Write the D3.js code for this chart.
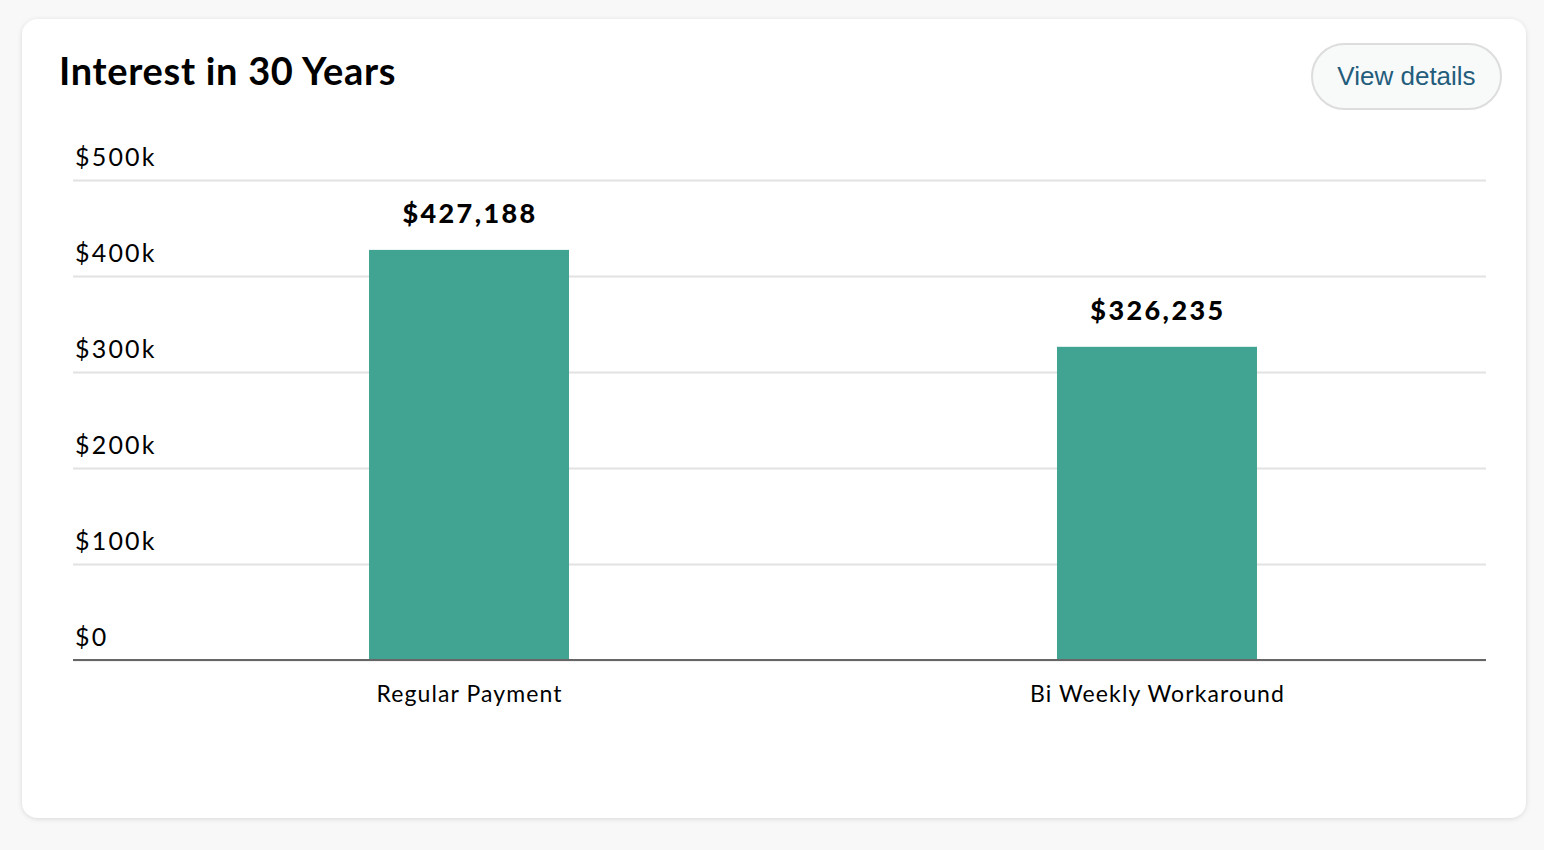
<!DOCTYPE html>
<html>
<head>
<meta charset="utf-8">
<script src="https://cdn.jsdelivr.net/npm/d3@7/dist/d3.min.js"></script>
<style>
  html, body { margin: 0; padding: 0; background: #f8f8f8; }
  svg { display: block; }
</style>
</head>
<body>
<svg id="chart" width="1544" height="850"></svg>
<script>
const title = "Interest in 30 Years";
const buttonLabel = "View details";
const categories = ["Regular Payment", "Bi Weekly Workaround"];
const values = [427188, 326235];
const tickValues = [0, 100000, 200000, 300000, 400000, 500000];
const tickLabels = ["$0", "$100k", "$200k", "$300k", "$400k", "$500k"];

const svg = d3.select("#chart");
const font = "Lato, 'Noto Sans', sans-serif";

// shadow filter
const defs = svg.append("defs");
const f = defs.append("filter").attr("id", "shadow").attr("x", "-5%").attr("y", "-5%").attr("width", "110%").attr("height", "115%");
f.append("feDropShadow").attr("dx", 0).attr("dy", 1).attr("stdDeviation", 2.5).attr("flood-color", "#000").attr("flood-opacity", 0.13);

// card
svg.append("rect")
  .attr("x", 22).attr("y", 19).attr("width", 1504).attr("height", 799)
  .attr("rx", 16).attr("fill", "#fff").attr("filter", "url(#shadow)");

// title
svg.append("text")
  .attr("x", 59).attr("y", 85)
  .attr("font-family", font).attr("font-weight", 700).attr("font-size", 38)
  .attr("letter-spacing", 0.7)
  .attr("fill", "#000").text(title);

// button
const btn = svg.append("g");
btn.append("rect")
  .attr("x", 1312).attr("y", 44).attr("width", 189).attr("height", 65)
  .attr("rx", 32.5).attr("fill", "#f8f9f9").attr("stroke", "#dddddd").attr("stroke-width", 2);
btn.append("text")
  .attr("x", 1406.5).attr("y", 85).attr("text-anchor", "middle")
  .attr("font-family", "'Liberation Sans', Arial, sans-serif").attr("font-size", 26)
  .attr("fill", "#245d7c").text(buttonLabel);

// scales
const left = 73, right = 1486, bottom = 660;
const y = d3.scaleLinear().domain([0, 500000]).range([bottom, 180]);
const x = d3.scaleBand().domain(categories).range([125, 1501])
  .paddingInner(0.7093).paddingOuter(0.3547);

// gridlines
const yAxis = d3.axisLeft(y).tickValues(tickValues)
  .tickSize(-(right - left)).tickFormat((d, i) => tickLabels[i]);
const gy = svg.append("g").attr("transform", `translate(${left},0)`).call(yAxis);
gy.select(".domain").remove();
gy.selectAll(".tick line").attr("stroke", "#e2e2e2").attr("stroke-width", 2);
gy.selectAll(".tick text")
  .attr("x", 2).attr("dy", -15).attr("text-anchor", "start")
  .attr("font-family", font).attr("font-size", 25).attr("letter-spacing", 2.2).attr("fill", "#000");

// bars
svg.append("g").selectAll("rect").data(values).join("rect")
  .attr("x", (d, i) => x(categories[i]))
  .attr("y", d => y(d))
  .attr("width", x.bandwidth())
  .attr("height", d => bottom - y(d))
  .attr("fill", "#41a391");

// baseline
svg.append("line")
  .attr("x1", left).attr("x2", right).attr("y1", bottom).attr("y2", bottom)
  .attr("stroke", "#666").attr("stroke-width", 2);

// value labels
svg.append("g").selectAll("text").data(values).join("text")
  .attr("x", (d, i) => x(categories[i]) + x.bandwidth() / 2 + 1)
  .attr("y", d => y(d) - 27)
  .attr("text-anchor", "middle")
  .attr("font-family", font).attr("font-weight", 900).attr("font-size", 27)
  .attr("letter-spacing", 2.4)
  .attr("fill", "#000")
  .text(d => "$" + d3.format(",")(d));

// x labels
const xAxis = d3.axisBottom(x).tickSize(0);
const gx = svg.append("g").attr("transform", `translate(0,${bottom})`).call(xAxis);
gx.select(".domain").remove();
gx.selectAll(".tick text")
  .attr("y", 0).attr("dy", 42).attr("dx", 0.5)
  .attr("font-family", font).attr("font-size", 23).attr("letter-spacing", 1.1).attr("fill", "#000");
</script>
</body>
</html>
